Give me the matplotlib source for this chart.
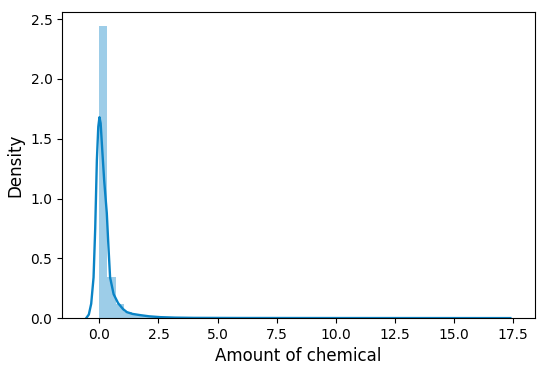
import matplotlib
matplotlib.use("Agg")
import matplotlib.pyplot as plt
import numpy as np

# Histogram (density)
bin_width = 0.34
bin_start = 0.0
hist_density = [2.44, 0.34, 0.12, 0.05, 0.03, 0.02, 0.012, 0.008, 0.005, 0.004, 0.003]

# KDE curve points
kde_x = [-0.56, -0.45, -0.35, -0.25, -0.18, -0.11, -0.05, 0.0, 0.05, 0.12, 0.2,
         0.31, 0.38, 0.45, 0.6, 0.79, 1.0, 1.16, 1.4, 1.72, 2.1, 2.57, 3.2, 4.0,
         6.0, 10.0, 14.0, 17.4]
kde_y = [0.0, 0.03, 0.12, 0.34, 0.75, 1.32, 1.6, 1.68, 1.63, 1.4, 1.15,
         0.88, 0.6, 0.34, 0.2, 0.125, 0.075, 0.05, 0.035, 0.025, 0.015, 0.008, 0.004, 0.002,
         0.001, 0.0005, 0.0003, 0.0]

x_label = "Amount of chemical"
y_label = "Density"

line_color = "#0a84c6"
bar_color = "#0a84c6"

fig = plt.figure(figsize=(5.5, 3.76), dpi=100)
ax = fig.add_axes([0.113, 0.154, 0.86, 0.814])

edges = bin_start + bin_width * np.arange(len(hist_density))
ax.bar(edges, hist_density, width=bin_width, align="edge", color=bar_color,
       alpha=0.4, linewidth=0)
ax.plot(kde_x, kde_y, color=line_color, lw=1.7)

ax.set_xlim(-1.58, 18.45)
ax.set_ylim(0, 2.56)
ax.set_xticks(np.arange(0, 17.6, 2.5))
ax.set_yticks(np.arange(0, 2.6, 0.5))
ax.set_xlabel(x_label, fontsize=12)
ax.set_ylabel(y_label, fontsize=12)
ax.tick_params(labelsize=10)

fig.savefig("out.png", dpi=100)
